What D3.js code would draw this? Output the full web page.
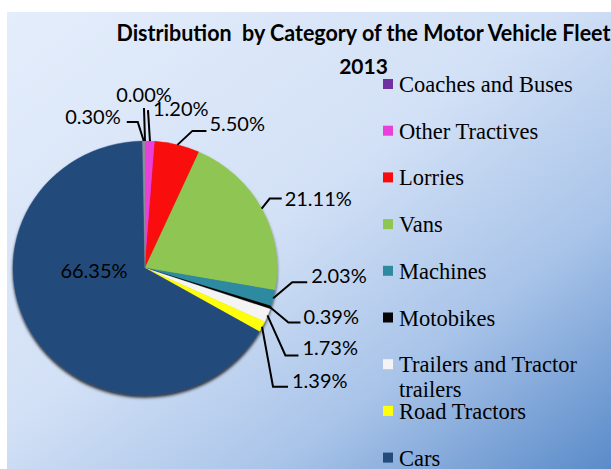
<!DOCTYPE html>
<html>
<head>
<meta charset="utf-8">
<script src="https://cdn.jsdelivr.net/npm/d3@7"></script>
<style>
  body { margin: 0; background: #fff; }
  svg { display: block; }
</style>
</head>
<body>
<svg id="chart" width="611" height="469"></svg>
<script>
let width = 611;
let height = 469;

// data, in the order Excel draws the slices (clockwise from 12 o'clock)
let categories = ["Coaches and Buses", "Other Tractives", "Lorries", "Vans", "Machines",
                  "Motobikes", "Trailers and Tractor trailers", "Road Tractors", "Cars", "Others"];
let shares = [0.00, 1.20, 5.50, 21.11, 2.03, 0.39, 1.73, 1.39, 66.35, 0.30];
let labels = ["0.00%", "1.20%", "5.50%", "21.11%", "2.03%", "0.39%", "1.73%", "1.39%", "66.35%", "0.30%"];
let colors = ["#7030a0", "#e93fd9", "#fa0a0a", "#8fc552", "#2f8aa0",
              "#050505", "#f4f4f4", "#ffff0a", "#244b7c", "#8a8f96"];

// label placement: elbow offset from slice edge, horizontal run, text offset
let labelLayout = [
    { dx: -1, dy: -33, len: 0, tx: 0, ty: -6, anchor: "middle" },
    { dx: -2, dy: -31, len: 0, tx: 5, ty: 6, anchor: "start" },
    { dx: 15, dy: -14, len: 14, tx: 3, ty: 0, anchor: "start" },
    { dx: 8, dy: -10, len: 12, tx: 3, ty: 7, anchor: "start" },
    { dx: 19, dy: -16, len: 15, tx: 4, ty: 1, anchor: "start" },
    { dx: 18, dy: 15, len: 12, tx: 3, ty: 1, anchor: "start" },
    { dx: 18, dy: 40, len: 13, tx: 4, ty: 0, anchor: "start" },
    { dx: 11, dy: 60, len: 15, tx: 4, ty: 1, anchor: "start" },
    null,
    { dx: -6, dy: -19, len: -11, tx: -6, ty: 2, anchor: "end" }
];

let cx = 145, cy = 268, rx = 132, ry = 127;

let svg = d3.select("#chart");
let defs = svg.append("defs");

let bg = defs.append("linearGradient").attr("id", "bg")
    .attr("x1", 0).attr("y1", 0).attr("x2", 1).attr("y2", 1);
bg.append("stop").attr("offset", 0).attr("stop-color", "#e4edfb");
bg.append("stop").attr("offset", 0.45).attr("stop-color", "#d3e1f6");
bg.append("stop").attr("offset", 0.72).attr("stop-color", "#a9c4e9");
bg.append("stop").attr("offset", 1).attr("stop-color", "#5a8bc9");

let shadow = defs.append("filter").attr("id", "shadow")
    .attr("x", "-10%").attr("y", "-10%").attr("width", "120%").attr("height", "125%");
shadow.append("feDropShadow").attr("dx", 0).attr("dy", 2.5).attr("stdDeviation", 1.6)
    .attr("flood-color", "#000").attr("flood-opacity", 0.8);

svg.append("rect")
    .attr("x", 7).attr("y", 12)
    .attr("width", width - 7).attr("height", height - 12)
    .attr("fill", "url(#bg)");

// title
let title = svg.append("text")
    .attr("x", 363.5).attr("y", 41)
    .attr("text-anchor", "middle")
    .style("font-family", "Lato, 'Open Sans', sans-serif")
    .style("font-weight", "bold")
    .style("font-size", "22px")
    .style("white-space", "pre")
    .attr("fill", "#000")
    .text("Distribution  by Category of the Motor Vehicle Fleet");
title.attr("textLength", 494).attr("lengthAdjust", "spacingAndGlyphs");

svg.append("text")
    .attr("x", 363.5).attr("y", 74)
    .attr("text-anchor", "middle")
    .style("font-family", "Lato, 'Open Sans', sans-serif")
    .style("font-weight", "bold")
    .style("font-size", "21px")
    .attr("fill", "#000")
    .text("2013");

// pie
let data = categories.map((c, i) => ({ name: c, value: shares[i], label: labels[i], color: colors[i], layout: labelLayout[i] }));

let pie = d3.pie().value(d => d.value).sort(null);
let arcs = pie(data);
let arc = d3.arc().innerRadius(0).outerRadius(ry);

let pieG = svg.append("g")
    .attr("transform", "translate(" + cx + "," + cy + ") scale(" + (rx / ry) + ",1)")
    .attr("filter", "url(#shadow)");

pieG.selectAll(".slice").data(arcs).enter()
    .append("path")
    .attr("class", "slice")
    .attr("d", arc)
    .attr("fill", d => d.data.color)
    .attr("stroke", d => d.data.color)
    .attr("stroke-width", 0.4);

// labels and leader lines
let labelFont = "Lato, 'Open Sans', sans-serif";

arcs.forEach(function(d) {
    let mid = (d.startAngle + d.endAngle) / 2;
    let L = d.data.layout;
    if (!L) {
        // the big slice gets its label inside
        svg.append("text")
            .attr("x", cx - 51).attr("y", cy + 10)
            .attr("text-anchor", "middle")
            .style("font-family", labelFont)
            .style("font-size", "20px")
            .attr("fill", "#000")
            .text(d.data.label);
        return;
    }
    let ex = cx + rx * Math.sin(mid);
    let ey = cy - ry * Math.cos(mid);
    let bx = ex + L.dx, by = ey + L.dy;
    let endX = bx + L.len;

    svg.append("path")
        .attr("d", d3.line()([[ex, ey], [bx, by], [endX, by]]))
        .attr("fill", "none")
        .attr("stroke", "#000")
        .attr("stroke-width", 2);

    svg.append("text")
        .attr("x", endX + L.tx).attr("y", by + L.ty)
        .attr("text-anchor", L.anchor)
        .style("font-family", labelFont)
        .style("font-size", "20px")
        .attr("fill", "#000")
        .text(d.data.label);
});

// legend
let legendX = 383;
let legendY = 92;
let legendStep = 46.7;

let legend = svg.append("g");
data.forEach(function(d, i) {
    let y = legendY + i * legendStep;
    legend.append("rect")
        .attr("x", legendX).attr("y", y - 13)
        .attr("width", 10).attr("height", 10)
        .attr("fill", d.color);
    let t = legend.append("text")
        .attr("x", legendX + 16).attr("y", y)
        .style("font-family", "'Liberation Serif', 'Times New Roman', serif")
        .style("font-size", "22.5px")
        .attr("fill", "#000");
    // wrap long names like Excel does
    let words = d.name.split(" ");
    let line = [];
    let tspan = t.append("tspan").attr("x", legendX + 16).attr("dy", 0);
    words.forEach(function(w) {
        line.push(w);
        tspan.text(line.join(" "));
        if (tspan.node().getComputedTextLength() > 200 && line.length > 1) {
            line.pop();
            tspan.text(line.join(" "));
            line = [w];
            tspan = t.append("tspan").attr("x", legendX + 16).attr("dy", 25).text(w);
        }
    });
});
</script>
</body>
</html>
